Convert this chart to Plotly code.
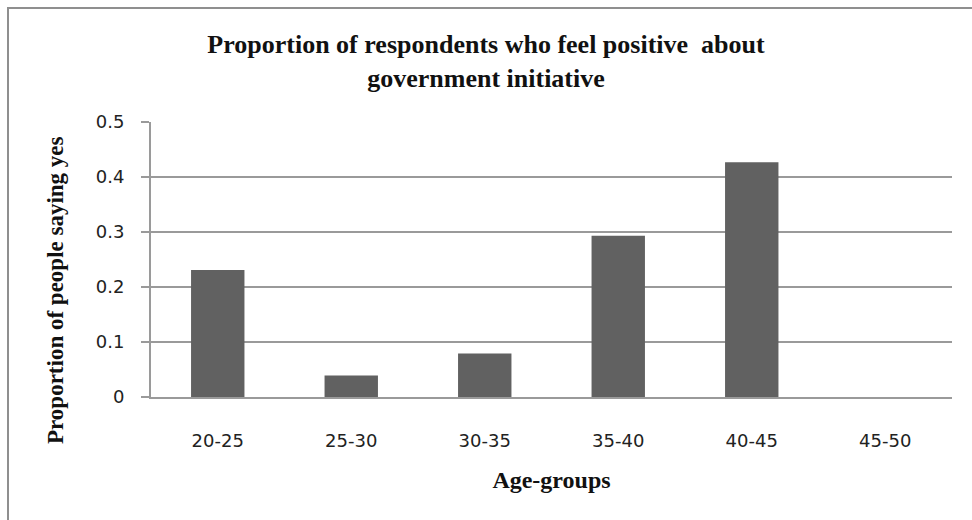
import plotly.graph_objects as go

categories = ["20-25", "25-30", "30-35", "35-40", "40-45", "45-50"]
values = [0.231, 0.039, 0.079, 0.293, 0.427, 0.0]
y_ticks = [0, 0.1, 0.2, 0.3, 0.4, 0.5]
y_tick_labels = ["0", "0.1", "0.2", "0.3", "0.4", "0.5"]

W, H = 972, 520
L, R, T, B = 151, 20, 122, 123

fig = go.Figure(go.Bar(
    x=categories, y=values, width=0.4,
    marker=dict(color="#616161", line=dict(width=0)),
))

serif = "Liberation Serif"
sans = "DejaVu Sans"

pw = W - L - R
ph = H - T - B

fig.update_layout(
    width=W, height=H,
    margin=dict(l=L, r=R, t=T, b=B),
    paper_bgcolor="white", plot_bgcolor="white",
    showlegend=False,
    bargap=0.6,
    title=dict(
        text="<b>Proportion of respondents who feel positive  about</b><br><b>government initiative</b>",
        font=dict(family=serif, size=26, color="#111111"),
        x=0.5, xref="container", xanchor="center",
        y=1 - 53 / H, yref="container", yanchor="top",
    ),
    xaxis=dict(
        showgrid=False, showline=True, linecolor="#9a9a9a", linewidth=2,
        ticks="", tickfont=dict(family=sans, size=18, color="#222222"),
        ticklabelstandoff=26,
        title=dict(text="<b>Age-groups</b>", font=dict(family=serif, size=24, color="#111111"), standoff=22),
        fixedrange=True,
    ),
    yaxis=dict(
        range=[0, 0.5], tickvals=y_ticks, ticktext=y_tick_labels,
        showgrid=True, gridcolor="#9a9a9a", gridwidth=2,
        showline=True, linecolor="#9a9a9a", linewidth=2,
        zeroline=False,
        ticks="outside", ticklen=8, tickcolor="#9a9a9a", tickwidth=2,
        tickfont=dict(family=sans, size=18, color="#222222"),
        ticklabelstandoff=13,
        fixedrange=True,
    ),
)

# y-axis title placed as annotation (centred lower than the plot area, as in reference)
fig.add_annotation(
    text="<b>Proportion of people saying yes</b>",
    xref="paper", yref="paper",
    x=(55 - L) / pw, y=((H - B) - 290) / ph,
    xanchor="center", yanchor="middle", textangle=-90, showarrow=False,
    font=dict(family=serif, size=23, color="#111111"),
)

# outer chart-area border (top and left visible; right/bottom cropped in reference)
fig.add_shape(
    type="rect", xref="paper", yref="paper",
    x0=(8 - L) / pw, x1=(W + 20 - L) / pw,
    y0=-(H + 20 - (H - B)) / ph, y1=1 + (T - 8) / ph,
    line=dict(color="#8f8f8f", width=2), fillcolor="rgba(0,0,0,0)", layer="below",
)

fig.write_html("out.html")
